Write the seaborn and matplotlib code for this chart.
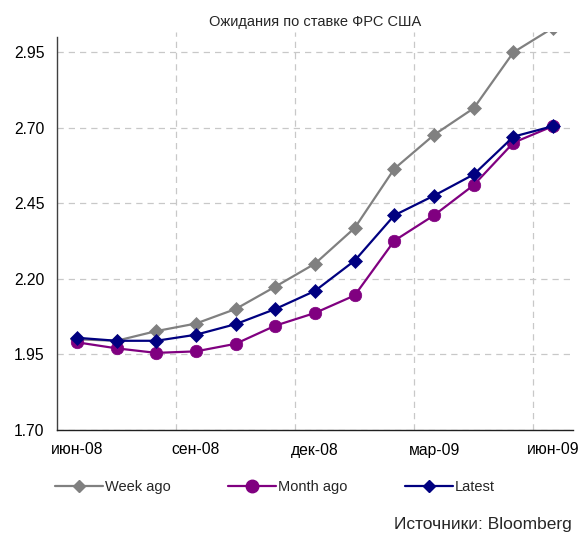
import matplotlib
matplotlib.use("Agg")
import matplotlib.pyplot as plt
import seaborn as sns
import pandas as pd
from matplotlib.lines import Line2D

# ---- data ----
months = ['июн-08', 'июл-08', 'авг-08', 'сен-08', 'окт-08', 'ноя-08', 'дек-08',
          'янв-09', 'фев-09', 'мар-09', 'апр-09', 'май-09', 'июн-09']
week_ago = [2.000, 1.995, 2.027, 2.052, 2.100, 2.174, 2.250, 2.368, 2.564, 2.676, 2.764, 2.949, 3.030]
month_ago = [1.990, 1.970, 1.955, 1.960, 1.985, 2.045, 2.087, 2.145, 2.326, 2.410, 2.510, 2.650, 2.705]
latest = [2.005, 1.995, 1.995, 2.015, 2.050, 2.100, 2.160, 2.260, 2.410, 2.475, 2.545, 2.670, 2.705]
series_names = ['Week ago', 'Month ago', 'Latest']
yticks = [1.70, 1.95, 2.20, 2.45, 2.70, 2.95]
title = 'Ожидания по ставке ФРС США'
source = 'Источники: Bloomberg'

rows = []
for name, vals in zip(series_names, [week_ago, month_ago, latest]):
    for i, (m, v) in enumerate(zip(months, vals)):
        rows.append({'idx': i, 'month': m, 'value': v, 'series': name})
df = pd.DataFrame(rows)

sns.set_theme(style='white')
plt.rcParams['font.family'] = ['Liberation Sans', 'DejaVu Sans']

colors = {'Week ago': '#808080', 'Month ago': '#800080', 'Latest': '#000080'}
markers = {'Week ago': 'D', 'Month ago': 'o', 'Latest': 'D'}

fig = plt.figure(figsize=(5.81, 5.37), dpi=100)
ax = fig.add_axes([57 / 581, 1 - 430 / 537, (573 - 57) / 581, (430 - 32) / 537])

sns.lineplot(data=df, x='idx', y='value', hue='series', style='series',
             hue_order=series_names, style_order=series_names,
             palette=colors, markers=markers, dashes=False,
             linewidth=1.6, markeredgewidth=0.5, ax=ax, legend=False)
msizes = {'Week ago': 7.2, 'Month ago': 9.0, 'Latest': 7.2}
for line, name in zip(ax.lines, series_names):
    line.set_markersize(msizes[name])
    line.set_markeredgecolor(colors[name])

ax.set_xlim(-0.5, 12.5)
ax.set_ylim(1.70, 3.016)
ax.set_yticks(yticks)
ax.set_yticklabels([f'{t:.2f}' for t in yticks])
tick_idx = list(range(0, 13, 3))
ax.set_xticks(tick_idx)
ax.set_xticklabels([months[i] for i in tick_idx])
ax.set_xticks([2.5, 5.5, 8.5, 11.5], minor=True)
ax.set_xlabel('')
ax.set_ylabel('')

ax.grid(False)
ax.yaxis.grid(True, color='#c8c8c8', linestyle=(0, (5, 4)), linewidth=0.9)
ax.xaxis.grid(True, which='minor', color='#c8c8c8', linestyle=(0, (5, 4)), linewidth=0.9)
ax.set_axisbelow(True)

ax.tick_params(axis='both', which='both', length=0, labelsize=11.3, colors='black')
ax.tick_params(axis='y', pad=9)
ax.tick_params(axis='x', pad=9)
for s in ['top', 'right']:
    ax.spines[s].set_visible(False)
ax.spines['left'].set_bounds(1.70, 3.0)
ax.spines['left'].set_color('#404040')
ax.spines['bottom'].set_color('#202020')
ax.spines['left'].set_linewidth(1.0)
ax.spines['bottom'].set_linewidth(1.0)

ax.set_title(title, fontsize=10.5, pad=4)

handles = [Line2D([0], [0], color=colors[n], marker=markers[n], lw=1.6,
                  markersize=msizes[n] * (0.9 if markers[n] == 'D' else 1.0),
                  markeredgecolor=colors[n]) for n in series_names]
fig.legend(handles, series_names, loc='center', ncol=3, mode='expand',
           bbox_to_anchor=(55 / 581, 1 - 497 / 537, (495 - 55) / 581, 20 / 537),
           frameon=False, fontsize=10.5, handlelength=3.3, handletextpad=0.15,
           borderaxespad=0, borderpad=0)

fig.text(572 / 581, 1 - 525 / 537, source, ha='right', va='center', fontsize=12.5,
         family=['Liberation Sans Narrow', 'Liberation Sans', 'DejaVu Sans'])

fig.savefig('out.png', dpi=100)
